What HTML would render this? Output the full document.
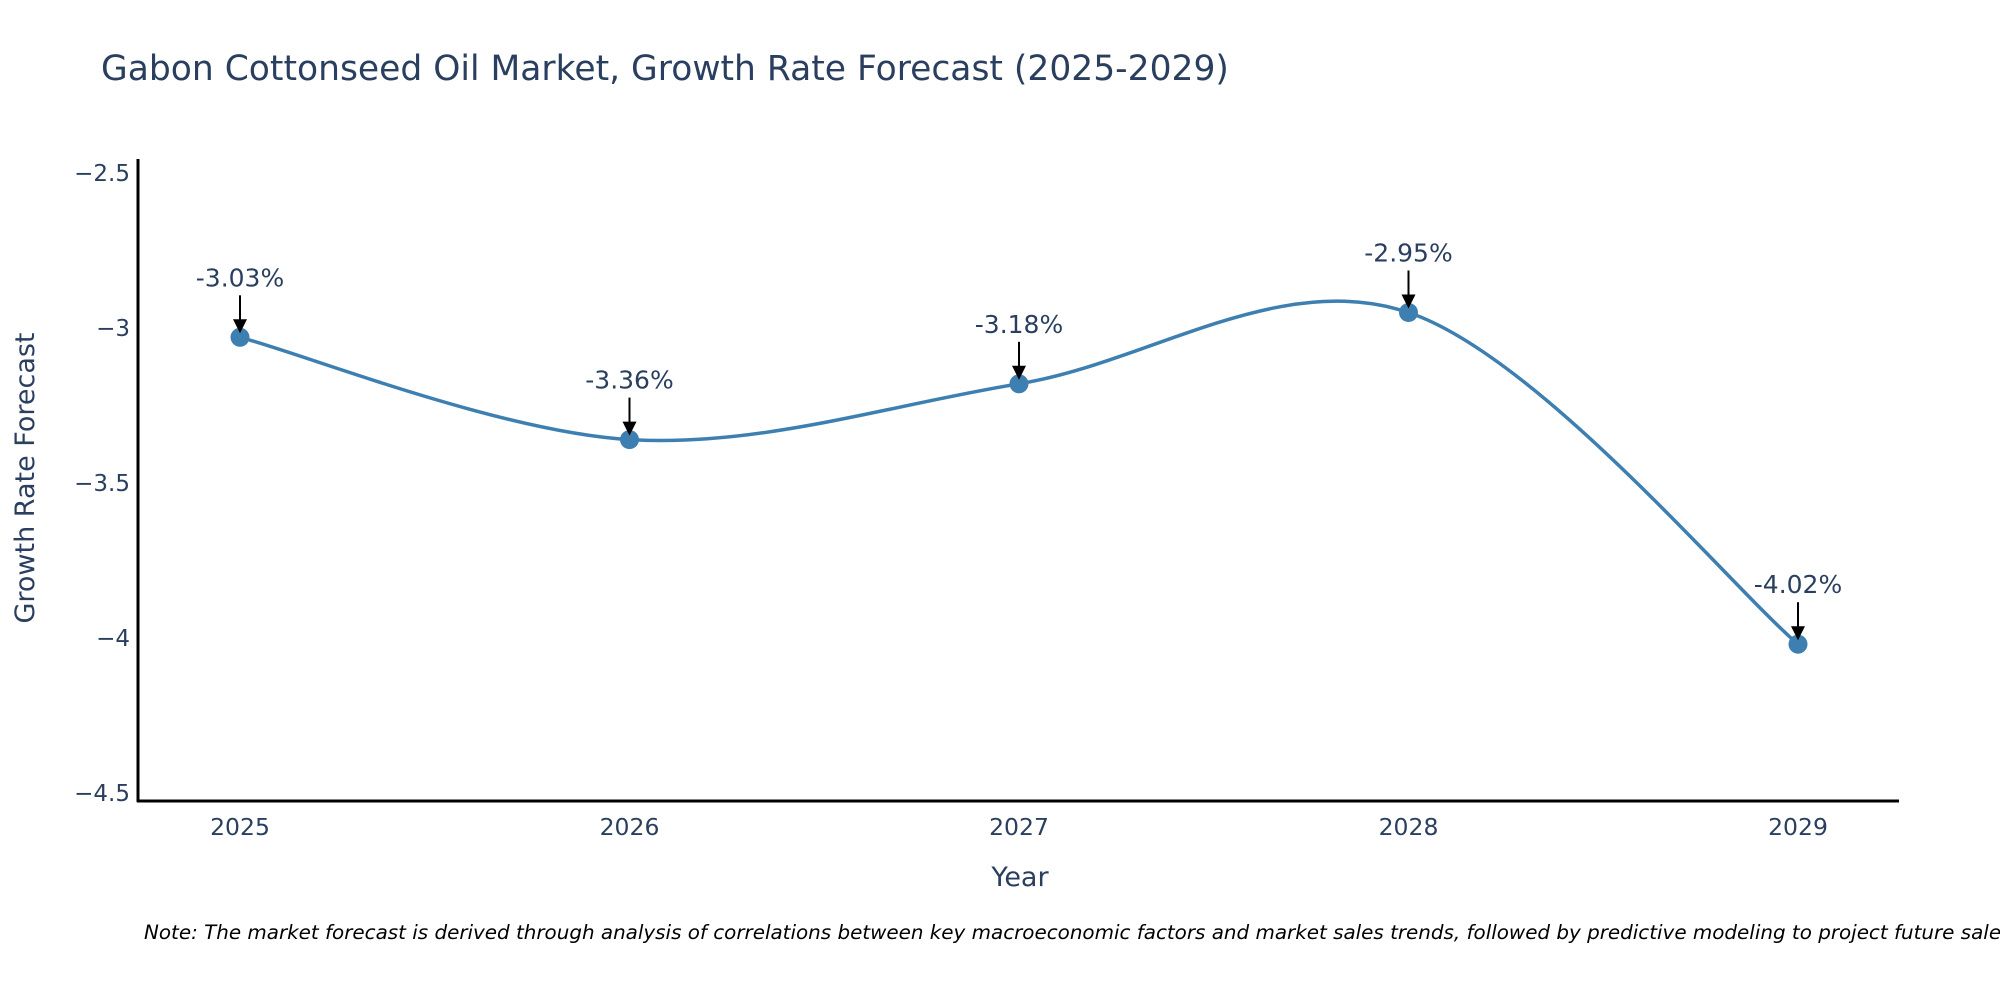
<!DOCTYPE html>
<html><head><meta charset="utf-8"><style>
body{margin:0;background:#fff;}
svg text{font-family:"DejaVu Sans","Liberation Sans",sans-serif;fill:#2a3f5f;}
</style></head><body>
<svg width="2000" height="1000" xmlns="http://www.w3.org/2000/svg">
<text x="101" y="80" font-size="34.5">Gabon Cottonseed Oil Market, Growth Rate Forecast (2025-2029)</text>
<g id="yticks"></g>
<g id="xticks"></g>
<line x1="138" y1="159" x2="138" y2="802" stroke="#000" stroke-width="3"/>
<line x1="137" y1="801" x2="1899" y2="801" stroke="#000" stroke-width="3"/>
<text transform="translate(34,478) rotate(-90)" text-anchor="middle" font-size="27">Growth Rate Forecast</text>
<text x="1020" y="886" text-anchor="middle" font-size="27">Year</text>
<text x="144" y="939" font-size="19.9" font-style="italic" style="fill:#000">Note: The market forecast is derived through analysis of correlations between key macroeconomic factors and market sales trends, followed by predictive modeling to project future sales.</text>
<g id="series"></g>
</svg>
<script>
const years = ['2025','2026','2027','2028','2029'];
const values = [-3.03, -3.36, -3.18, -2.95, -4.02];
const yTickVals = [-2.5, -3, -3.5, -4, -4.5];
const yTickLabels = ['\u22122.5','\u22123','\u22123.5','\u22124','\u22124.5'];
const NS='http://www.w3.org/2000/svg';
function xs(i){return 240 + i*389.5;}
function ys(v){return 173 + (-2.5 - v)*310;}
function mk(tag,attrs,parent){const e=document.createElementNS(NS,tag);for(const k in attrs)e.setAttribute(k,attrs[k]);parent.appendChild(e);return e;}
const yt=document.getElementById('yticks');
yTickVals.forEach((v,i)=>{
  const t=mk('text',{x:130,y:ys(v)+8,'text-anchor':'end','font-size':23},yt);
  t.textContent=yTickLabels[i];
  
  
});
const xt=document.getElementById('xticks');
years.forEach((y,i)=>{
  const t=mk('text',{x:xs(i),y:835,'text-anchor':'middle','font-size':23.5},xt);
  t.textContent=y;
  
  
});
const g=document.getElementById('series');
const pts=values.map((v,i)=>[xs(i),ys(v)]);
let d='M'+pts[0][0]+','+pts[0][1];
for(let i=0;i<pts.length-1;i++){
  const p0=pts[Math.max(0,i-1)],p1=pts[i],p2=pts[i+1],p3=pts[Math.min(pts.length-1,i+2)];
  const c1=[p1[0]+(p2[0]-p0[0])/6,p1[1]+(p2[1]-p0[1])/6];
  const c2=[p2[0]-(p3[0]-p1[0])/6,p2[1]-(p3[1]-p1[1])/6];
  d+=' C'+c1[0]+','+c1[1]+' '+c2[0]+','+c2[1]+' '+p2[0]+','+p2[1];
}
const line=mk('path',{d:d,fill:'none',stroke:'#3d7fb0','stroke-width':3.5},g);


pts.forEach((p,i)=>{
  const c=mk('circle',{cx:p[0],cy:p[1],r:9.5,fill:'#3d7fb0'},g);
  
  
  const a=mk('line',{x1:p[0],y1:p[1]-42,x2:p[0],y2:p[1]-16,stroke:'#000','stroke-width':2},g);
  
  
  const h=mk('polygon',{points:(p[0]-7)+','+(p[1]-18)+' '+(p[0]+7)+','+(p[1]-18)+' '+p[0]+','+(p[1]-4),fill:'#000'},g);
  
  
  const t=mk('text',{x:p[0],y:p[1]-51,'text-anchor':'middle','font-size':25},g);
  t.textContent=values[i].toFixed(2)+'%';
  
  
});
</script>
</body></html>
